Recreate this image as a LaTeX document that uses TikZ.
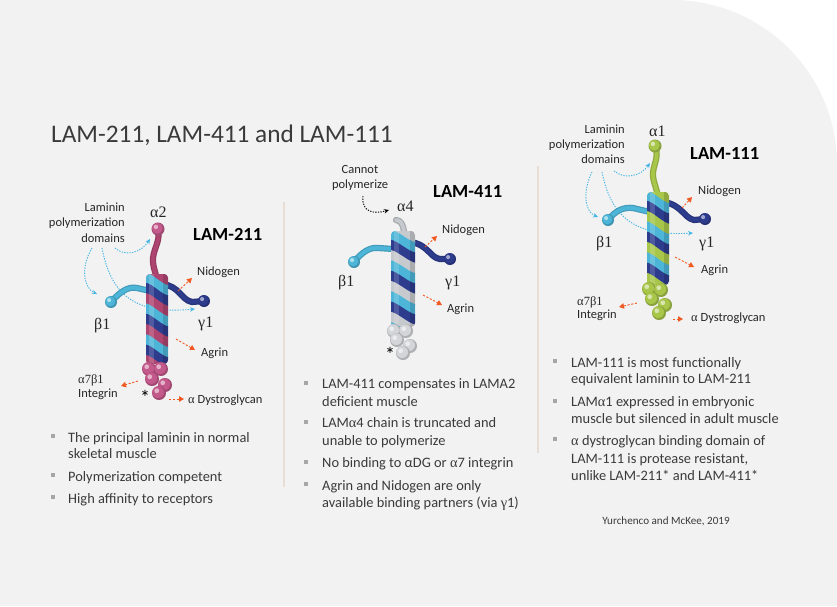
\documentclass[tikz,border=0pt]{standalone}
\usepackage{fontspec}
\setmainfont{Carlito}
\newfontfamily\grk{Liberation Serif}
\usetikzlibrary{arrows.meta}
\definecolor{bgc}{HTML}{F2F2F2}
\definecolor{divc}{HTML}{E8DDD4}
\definecolor{titletxt}{HTML}{3A3A3A}
\definecolor{lbltxt}{HTML}{262626}
\definecolor{bodytxt}{HTML}{3A3A3A}
\definecolor{bulletgray}{HTML}{A6A6A6}
\definecolor{orarr}{HTML}{F05A22}
\definecolor{dotblue}{HTML}{45B5E5}
\definecolor{cmag}{HTML}{AE4470}
\definecolor{cpink}{HTML}{C4598B}
\definecolor{ccyan}{HTML}{4DB6D8}
\definecolor{cblue}{HTML}{2E3C8E}
\definecolor{cgray}{HTML}{C6C9CD}
\definecolor{cglob}{HTML}{D3D5D8}
\definecolor{cgreen}{HTML}{A8C64A}
\newcommand{\coilx}[7]{% cx ytop ybot w colA colB colC
  \colorlet{coilc0}{#5}\colorlet{coilc1}{#6}\colorlet{coilc2}{#7}%
  \begin{scope}
    \clip[rounded corners=4pt] ({#1-#4/2},#2) rectangle ({#1+#4/2},#3);
    \fill[coilc0] ({#1-#4/2},#2) rectangle ({#1+#4/2},#3);
    \foreach \k in {0,...,12}{
      \pgfmathtruncatemacro\m{mod(\k,3)}
      \pgfmathsetmacro\ya{#2-12+\k*10.3}
      \fill[coilc\m] ({#1-#4/2-1},\ya) .. controls ({#1-#4/2+6},{\ya+0.5}) and ({#1+#4/2-6},{\ya+12.5}) .. ({#1+#4/2+1},{\ya+13}) -- ({#1+#4/2+1},{\ya+24}) .. controls ({#1+#4/2-6},{\ya+23.5}) and ({#1-#4/2+6},{\ya+11.5}) .. ({#1-#4/2-1},{\ya+11}) -- cycle;
    }
    \fill[white,opacity=0.16] ({#1-#4/2+3},#2) rectangle ({#1-#4/2+8},#3);
    \fill[black,opacity=0.14] ({#1+#4/2-5},#2) rectangle ({#1+#4/2},#3);
  \end{scope}}
\newcommand{\chainx}[2]{%
  \draw[line width=6.2pt, line cap=round, #1!85!black] #2;
  \draw[line width=3.8pt, line cap=round, #1] #2;}
\newcommand{\ballx}[4]{%
  \fill[#1!82!black] (#2,#3) circle[radius=#4pt];
  \fill[#1] ({#2-#4*0.12},{#3-#4*0.12}) circle[radius=#4*0.84pt];
  \fill[#1!45!white] ({#2-#4*0.32},{#3-#4*0.32}) circle[radius=#4*0.34pt];}
\begin{document}
\begin{tikzpicture}[x=1pt,y=-1pt,
  lbl/.style={font=\fontsize{12.5}{15}\selectfont, text=lbltxt, inner sep=0pt, anchor=base west},
  lblr/.style={lbl, anchor=base east},
  gk/.style={font=\grk\fontsize{16}{18}\selectfont, text=lbltxt, inner sep=0pt, anchor=base west},
  lamname/.style={font=\bfseries\fontsize{18.5}{20}\selectfont, text=black, inner sep=0pt, anchor=base west},
  btxt/.style={font=\fontsize{14.4}{17}\selectfont, text=bodytxt, inner sep=0pt, anchor=base west},
  bsq/.style={fill=bulletgray, minimum size=4pt, inner sep=0pt},
  oarr/.style={draw=orarr, line width=0.9pt, dash pattern=on 2.2pt off 1.6pt, -{Triangle[length=5pt,width=5.5pt]}},
  barr/.style={draw=dotblue, line width=0.9pt, dash pattern=on 1.3pt off 1.3pt, -{Stealth[length=5pt,width=4.5pt]}},
  karr/.style={draw=black, line width=0.9pt, dash pattern=on 1.3pt off 1.3pt, -{Stealth[length=5pt,width=4.5pt]}},
  star/.style={font=\fontsize{20}{22}\selectfont, text=black, inner sep=0pt}
]
\useasboundingbox (0,0) rectangle (837,606);
\fill[white] (0,0) rectangle (837,606);
\fill[bgc] (0,606) -- (0,0) -- (672,0) arc[start angle=90, end angle=0, radius=165pt] -- (837,606) -- cycle;

% dividers
\draw[divc, line width=1.2pt] (284,202) -- (284,487);
\draw[divc, line width=1.2pt] (538,166) -- (538,453);

% title
\node[font=\fontsize{25.3}{30}\selectfont, text=titletxt, inner sep=0pt, anchor=base west] (title) at (51,142) {LAM-211, LAM-411 and LAM-111};

%%%%%%%%%%%% LAM-211
\node[lblr] (d1a) at (125,211) {Laminin};
\node[lblr] (d1b) at (125,226) {polymerization};
\node[lblr] (d1c) at (125,242) {domains};
\node[gk] (a2) at (150,217) {α2};
\node[lamname] (n211) at (193,240) {LAM-211};
\node[lbl] (nid1) at (197,275) {Nidogen};
\node[gk] (b1a) at (94,329) {β1};
\node[gk] (g1a) at (198,327) {γ1};
\node[lbl] (agr1) at (201,356) {Agrin};
\node[lbl] (int1a) at (78,383) {{\grk α7β1}};
\node[lbl] (int1b) at (78,397) {Integrin};
\node[lbl] (dg1) at (188,403) {{\grk α} Dystroglycan};

\draw[barr] (115,248) .. controls (125,257) and (141,253) .. (150,239);
\draw[barr] (92,248) .. controls (80,268) and (84,288) .. (97,294);
\draw[barr] (102,248) .. controls (112,300) and (140,314) .. (195,309);

\chainx{cmag}{(158,229) .. controls (161,242) and (152,250) .. (153,262) .. controls (154,272) and (157,274) .. (157,284)}
\chainx{ccyan}{(111,302) .. controls (120,292) and (128,286) .. (137,288) -- (150,291)}
\chainx{cblue}{(162,284) .. controls (180,286) and (181,300) .. (192,302) -- (204,301)}
\ballx{cpink}{158}{229}{6.5}
\ballx{ccyan}{111}{302}{6}
\ballx{cblue}{204}{301}{6}
\coilx{157}{274}{364}{22}{cmag}{ccyan}{cblue}
\ballx{cpink}{149}{369}{7}
\ballx{cpink}{161}{369}{7}
\ballx{cpink}{152}{379}{7}
\ballx{cpink}{165}{385}{7}
\ballx{cpink}{159}{393}{7}
\node[star] (s1) at (145,397) {*};

\draw[oarr] (178,291) -- (192,278);
\draw[oarr] (176,339) -- (195,350);
\draw[oarr] (138,381) -- (121,386);
\draw[oarr] (169,399) -- (184,399);

%%%%%%%%%%%% LAM-411
\node[lbl, anchor=base] (cp1) at (360,173) {Cannot};
\node[lbl, anchor=base] (cp2) at (360,188) {polymerize};
\node[gk] (a4) at (397,211) {α4};
\node[lamname] (n411) at (433,197) {LAM-411};
\node[lbl] (nid2) at (442,233) {Nidogen};
\node[gk] (b1b) at (338,286) {β1};
\node[gk] (g1b) at (445,286) {γ1};
\node[lbl] (agr2) at (447,312) {Agrin};

\draw[karr] (363,196) .. controls (361,213) and (375,214) .. (389,210);

\chainx{cgray}{(404,240) .. controls (405,226) and (401,220) .. (396,220)}
\chainx{ccyan}{(354,262) .. controls (362,252) and (370,247) .. (378,248) -- (394,249)}
\chainx{cblue}{(410,242) .. controls (428,244) and (430,258) .. (440,259) -- (450,259)}
\ballx{ccyan}{354}{262}{6}
\ballx{cblue}{450}{259}{6}
\coilx{403}{231}{327}{24}{cgray}{ccyan}{cblue}
\ballx{cglob}{394}{331}{7}
\ballx{cglob}{406}{331}{7}
\ballx{cglob}{397}{340}{7}
\ballx{cglob}{410}{346}{7}
\ballx{cglob}{403}{353}{7}
\node[star] (s2) at (390,354) {*};

\draw[oarr] (425,247) -- (437,236);
\draw[oarr] (423,295) -- (442,305);

%%%%%%%%%%%% LAM-111
\node[lblr] (d3a) at (625,133) {Laminin};
\node[lblr] (d3b) at (625,148) {polymerization};
\node[lblr] (d3c) at (625,163) {domains};
\node[gk] (a1) at (649,136) {α1};
\node[lamname] (n111) at (690,159) {LAM-111};
\node[lbl] (nid3) at (698,194) {Nidogen};
\node[gk] (b1c) at (596,247) {β1};
\node[gk] (g1c) at (699,247) {γ1};
\node[lbl] (agr3) at (701,273) {Agrin};
\node[lbl] (int3a) at (577,305) {{\grk α7β1}};
\node[lbl] (int3b) at (577,318) {Integrin};
\node[lbl] (dg3) at (691,321) {{\grk α} Dystroglycan};

\draw[barr] (614,171) .. controls (625,180) and (641,176) .. (650,163);
\draw[barr] (592,172) .. controls (582,192) and (585,212) .. (598,217);
\draw[barr] (602,172) .. controls (612,222) and (640,236) .. (693,233);

\chainx{cgreen}{(655,146) .. controls (660,158) and (652,166) .. (653,176) .. controls (654,185) and (657,188) .. (658,198)}
\chainx{ccyan}{(608,220) .. controls (616,210) and (624,207) .. (633,208) -- (650,212)}
\chainx{cblue}{(664,202) .. controls (682,205) and (684,218) .. (694,220) -- (705,219)}
\ballx{cgreen}{655}{146}{6.5}
\ballx{ccyan}{608}{220}{6}
\ballx{cblue}{705}{219}{6}
\coilx{658}{192}{285}{22}{cgreen}{ccyan}{cblue}
\ballx{cgreen}{649}{289}{7}
\ballx{cgreen}{661}{290}{7}
\ballx{cgreen}{652}{299}{7}
\ballx{cgreen}{665}{305}{7}
\ballx{cgreen}{659}{313}{7}

\draw[oarr] (682,208) -- (692,197);
\draw[oarr] (675,257) -- (694,267);
\draw[oarr] (637,303) -- (619,307);
\draw[oarr] (673,319) -- (683,319);

%%%%%%%%%%%% bullets left
\node[bsq] (bl1) at (53,436) {};
\node[bsq] (bl2) at (53,475) {};
\node[bsq] (bl3) at (53,497) {};
\node[btxt] (tl1) at (68,442) {The principal laminin in normal};
\node[btxt] (tl2) at (68,458) {skeletal muscle};
\node[btxt] (tl3) at (68,481) {Polymerization competent};
\node[btxt] (tl4) at (68,503) {High affinity to receptors};

%%%%%%%%%%%% bullets middle
\node[bsq] (bm1) at (306,383) {};
\node[bsq] (bm2) at (306,422) {};
\node[bsq] (bm3) at (306,462) {};
\node[bsq] (bm4) at (306,484) {};
\node[btxt] (tm1) at (322,388) {LAM-411 compensates in LAMA2};
\node[btxt] (tm2) at (322,406) {deficient muscle};
\node[btxt] (tm3) at (322,427) {LAM{\grk α}4 chain is truncated and};
\node[btxt] (tm4) at (322,445) {unable to polymerize};
\node[btxt] (tm5) at (322,467) {No binding to αDG or {\grk α}7 integrin};
\node[btxt] (tm6) at (322,490) {Agrin and Nidogen are only};
\node[btxt] (tm7) at (322,507) {available binding partners (via {\grk γ}1)};

%%%%%%%%%%%% bullets right
\node[bsq] (br1) at (555,361) {};
\node[bsq] (br2) at (555,401) {};
\node[bsq] (br3) at (555,439) {};
\node[btxt] (tr1) at (571,367) {LAM-111 is most functionally};
\node[btxt] (tr2) at (571,383) {equivalent laminin to LAM-211};
\node[btxt] (tr3) at (571,406) {LAM{\grk α}1 expressed in embryonic};
\node[btxt] (tr4) at (571,423) {muscle but silenced in adult muscle};
\node[btxt] (tr5) at (571,445) {{\grk α} dystroglycan binding domain of};
\node[btxt] (tr6) at (571,463) {LAM-111 is protease resistant,};
\node[btxt] (tr7) at (571,480) {unlike LAM-211* and LAM-411*};

\node[font=\fontsize{11.1}{13}\selectfont, text=bodytxt, inner sep=0pt, anchor=base] (ref) at (666,524) {Yurchenco and McKee, 2019};
\end{tikzpicture}
\end{document}
